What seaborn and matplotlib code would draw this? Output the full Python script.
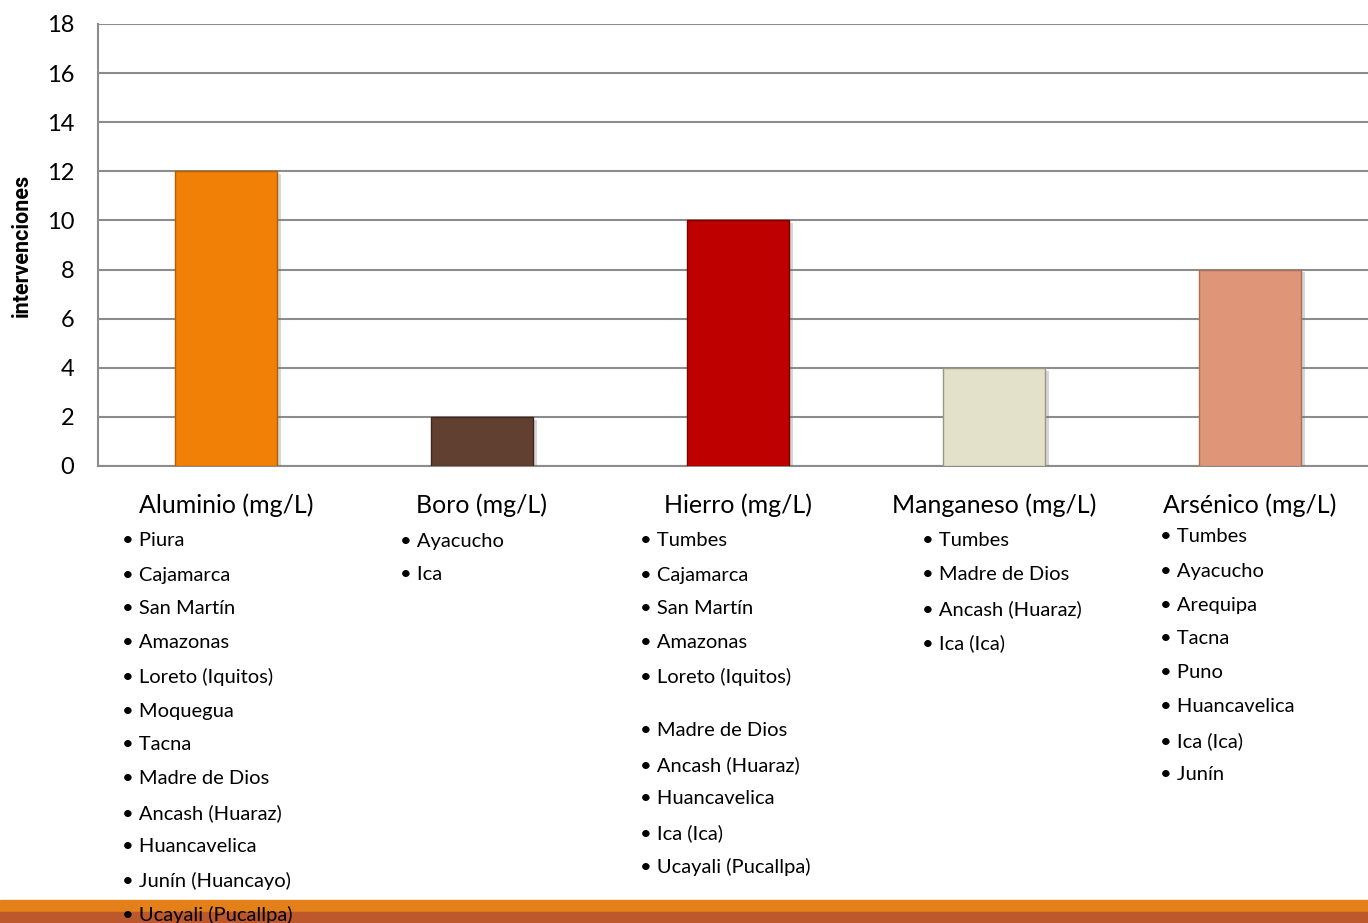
import matplotlib
matplotlib.use("Agg")
import matplotlib.pyplot as plt
import matplotlib.patheffects as pe
import seaborn as sns
import pandas as pd

categories = ["Aluminio (mg/L)", "Boro (mg/L)", "Hierro (mg/L)", "Manganeso (mg/L)", "Arsénico (mg/L)"]
values = [12, 2, 10, 4, 8]
colors = ["#F08006", "#613F31", "#BE0000", "#E3E1CA", "#DF9577"]
edges = ["#B35E04", "#3E281F", "#7A0000", "#9A9884", "#A8705A"]

regions_aluminio = ["Piura", "Cajamarca", "San Martín", "Amazonas", "Loreto (Iquitos)", "Moquegua",
                    "Tacna", "Madre de Dios", "Ancash (Huaraz)", "Huancavelica", "Junín (Huancayo)",
                    "Ucayali (Pucallpa)"]
regions_boro = ["Ayacucho", "Ica"]
regions_hierro = ["Tumbes", "Cajamarca", "San Martín", "Amazonas", "Loreto (Iquitos)", "",
                  "Madre de Dios", "Ancash (Huaraz)", "Huancavelica", "Ica (Ica)", "Ucayali (Pucallpa)"]
regions_manganeso = ["Tumbes", "Madre de Dios", "Ancash (Huaraz)", "Ica (Ica)"]
regions_arsenico = ["Tumbes", "Ayacucho", "Arequipa", "Tacna", "Puno", "Huancavelica", "Ica (Ica)", "Junín"]
region_lists = [regions_aluminio, regions_boro, regions_hierro, regions_manganeso, regions_arsenico]

yticks = [0, 2, 4, 6, 8, 10, 12, 14, 16, 18]

sns.set_theme(style="white")
plt.rcParams["font.family"] = ["Lato", "DejaVu Sans"]
plt.rcParams["text.color"] = "black"
plt.rcParams["axes.labelcolor"] = "black"
plt.rcParams["xtick.color"] = "black"
plt.rcParams["ytick.color"] = "black"

W, H = 1368, 923
fig = plt.figure(figsize=(W / 100, H / 100), dpi=100)
ax_left, ax_right, ax_top, ax_bot = 98, 1368, 24, 466
ax = fig.add_axes([ax_left / W, 1 - ax_bot / H, (ax_right - ax_left) / W, (ax_bot - ax_top) / H])

df = pd.DataFrame({"cat": categories, "val": values})
sns.barplot(data=df, x="cat", y="val", hue="cat", palette=colors, legend=False,
            saturation=1, width=0.40, ax=ax, zorder=3)
for patch, ec in zip(ax.patches, edges):
    patch.set_edgecolor(ec)
    patch.set_linewidth(1.0)
    patch.set_path_effects([pe.SimplePatchShadow(offset=(3, -2), shadow_rgbFace="#7a7a7a", alpha=0.3),
                            pe.Normal()])

ax.set_xlim(-0.5, -0.5 + (ax_right - ax_left) / 256.0)
ax.set_ylim(0, 18)
ax.set_yticks(yticks)
ax.set_yticklabels([str(v) for v in yticks], fontsize=17, color="#000000")
ax.yaxis.grid(True, color="#8C8C8C", linewidth=1.5, zorder=0)
ax.set_axisbelow(True)
for s in ["top", "right"]:
    ax.spines[s].set_visible(False)
ax.spines["left"].set_color("#8C8C8C")
ax.spines["left"].set_linewidth(1.5)
ax.spines["bottom"].set_color("#8C8C8C")
ax.spines["bottom"].set_linewidth(1.5)
ax.tick_params(axis="y", length=0, pad=17, labelcolor="black")
ax.tick_params(axis="x", length=0, pad=20, labelcolor="black")
ax.set_xticks(range(len(categories)))
ax.set_xticklabels(categories, fontsize=18, color="black")
ax.set_xlabel("")
ax.set_ylabel("intervenciones", fontsize=15.5, fontweight="bold", labelpad=10,
              family=["Roboto", "DejaVu Sans"], color="black")

# bottom decorative band
fig.patches.append(plt.Rectangle((0, 0), 1, 23 / H, transform=fig.transFigure, color="#E3801A", zorder=0))
fig.patches.append(plt.Rectangle((0, 0), 1, 11 / H, transform=fig.transFigure, color="#BD582C", zorder=0))

# region lists below each category
list_x = [122, 400, 640, 922, 1160]
list_y0 = [541, 541, 541, 541, 537]
line_h = 34
for regs, x0, y0 in zip(region_lists, list_x, list_y0):
    y = y0
    for r in regs:
        if r == "":
            y += 20
            continue
        fig.text(x0 / W, 1 - y / H, "\u2022 " + r, fontsize=14.5, ha="left", va="center",
                 color="#000000", zorder=5)
        y += line_h

fig.savefig("out.png", dpi=100)
